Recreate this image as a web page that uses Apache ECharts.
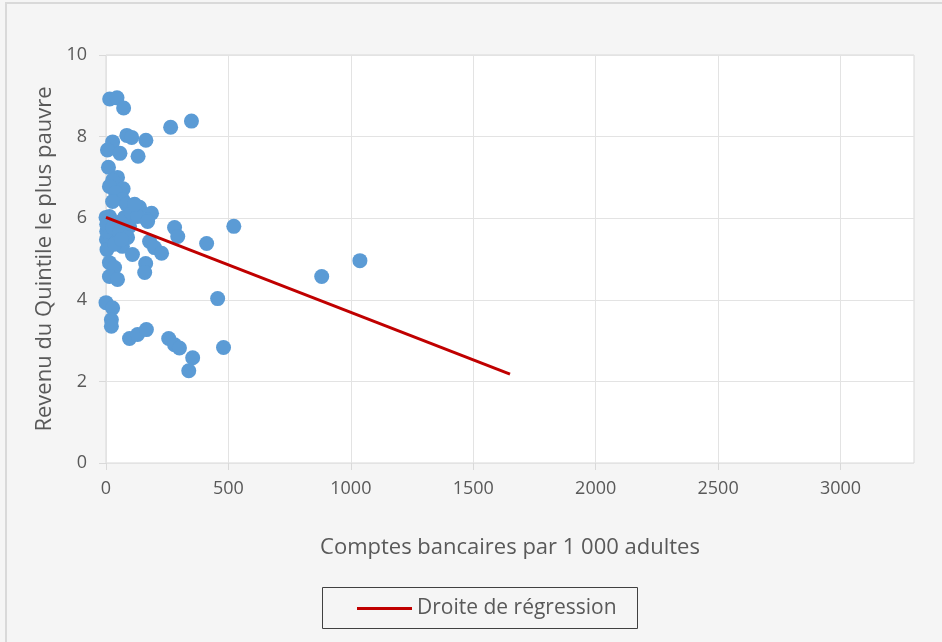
<!DOCTYPE html>
<html>
<head>
<meta charset="utf-8">
<script src="https://cdn.jsdelivr.net/npm/echarts@6/dist/echarts.min.js"></script>
<style>
	body { margin: 0; background: #f5f5f5; }
	#chart { width: 942px; height: 642px; }
</style>
</head>
<body>
<div id="chart"></div>
<script type="text/javascript">
	// points : [comptes pour 1 000 adultes, revenu du quintile]
	var comptes = [15, 45, 72, 264, 349, 85, 105, 27, 163, 6, 57, 131, 10,
		47, 27, 14, 70, 43, 39, 68,
		27, 84, 137, 186, 14, 55, 96, 166, 2, 43, 67, 4, 108,
		0, 3, 3, 76, 104, 129, 117, 27, 55, 88, 35, 63,
		280, 293, 411, 522, 178, 198, 227, 170, 162, 158,
		14, 35, 14, 47, 881, 1037,
		0, 27, 22, 22, 96, 129, 165, 256, 280, 300, 354, 338, 456, 480];
	var revenu = [8.92, 8.95, 8.70, 8.23, 8.38, 8.03, 7.98, 7.87, 7.91, 7.67, 7.59, 7.52, 7.25,
		7.00, 6.93, 6.78, 6.72, 6.50, 6.63, 6.46,
		6.41, 6.34, 6.27, 6.12, 6.04, 5.90, 5.80, 5.97, 5.48, 5.55, 5.31, 5.23, 5.11,
		6.02, 5.68, 5.85, 6.02, 6.14, 6.04, 6.34, 5.77, 5.65, 5.53, 5.36, 5.48,
		5.77, 5.55, 5.38, 5.80, 5.43, 5.28, 5.14, 5.92, 4.89, 4.67,
		4.91, 4.79, 4.57, 4.50, 4.57, 4.96,
		3.93, 3.80, 3.51, 3.35, 3.05, 3.15, 3.27, 3.05, 2.90, 2.82, 2.58, 2.26, 4.03, 2.83];
	// droite de régression : extrémités lues
	var droiteX = [0, 1650];
	var droiteY = [6.02, 2.18];
	var xTicks = [0, 500, 1000, 1500, 2000, 2500, 3000];

	var police = 'Open Sans';
	var pts = [];
	for (var i = 0; i < comptes.length; i++) {
		pts.push([comptes[i], revenu[i]]);
	}
	var droite = [];
	for (var j = 0; j < droiteX.length; j++) {
		droite.push([droiteX[j], droiteY[j]]);
	}

	var chart = echarts.init(document.getElementById('chart'));
	var option = {
		backgroundColor: '#f5f5f5',
		animation: false,
		textStyle: { fontFamily: police },
		graphic: [
			{
				type: 'rect', silent: true,
				shape: { x: 6, y: 3, width: 1000, height: 700 },
				style: { fill: 'none', stroke: '#d9d9d9', lineWidth: 2 }
			},
			{
				type: 'rect', silent: true,
				shape: { x: 322.5, y: 587.5, width: 315, height: 41 },
				style: { fill: 'none', stroke: '#404040', lineWidth: 1 }
			}
		],
		grid: {
			left: 106, right: 28, top: 55, bottom: 179,
			show: true, backgroundColor: '#ffffff',
			borderColor: '#d9d9d9', borderWidth: 1
		},
		legend: {
			data: [{ name: 'Droite de régression', icon: 'rect' }],
			left: 352, top: 593,
			itemWidth: 55, itemHeight: 3,
			textStyle: { color: '#595959', fontSize: 21, fontFamily: police }
		},
		xAxis: {
			type: 'value', min: 0, max: 3300, interval: 500,
			name: 'Comptes bancaires par 1 000 adultes',
			nameLocation: 'middle', nameGap: 74,
			nameTextStyle: { color: '#595959', fontSize: 22 },
			axisLine: { show: false },
			axisTick: { show: true, length: 7, lineStyle: { color: '#d9d9d9' }, customValues: xTicks },
			axisLabel: {
				color: '#595959', fontSize: 18, margin: 17, customValues: xTicks,
				formatter: function (v) { return String(v); }
			},
			splitLine: { lineStyle: { color: '#e3e3e3', width: 1 } }
		},
		yAxis: {
			type: 'value', min: 0, max: 10, interval: 2,
			name: 'Revenu du Quintile le plus pauvre',
			nameLocation: 'middle', nameGap: 50,
			nameTextStyle: { color: '#595959', fontSize: 22 },
			axisLine: { show: false },
			axisTick: { show: true, length: 7, lineStyle: { color: '#d9d9d9' } },
			axisLabel: { color: '#595959', fontSize: 18, margin: 19 },
			splitLine: { lineStyle: { color: '#e3e3e3', width: 1 } }
		},
		series: [
			{
				name: 'Points',
				type: 'scatter',
				symbolSize: 15,
				itemStyle: { color: '#5b9bd5', opacity: 1 },
				data: pts
			},
			{
				name: 'Droite de régression',
				type: 'line',
				symbol: 'none',
				lineStyle: { color: '#c00000', width: 3 },
				itemStyle: { color: '#c00000' },
				data: droite
			}
		]
	};
	chart.setOption(option);
</script>
</body>
</html>
